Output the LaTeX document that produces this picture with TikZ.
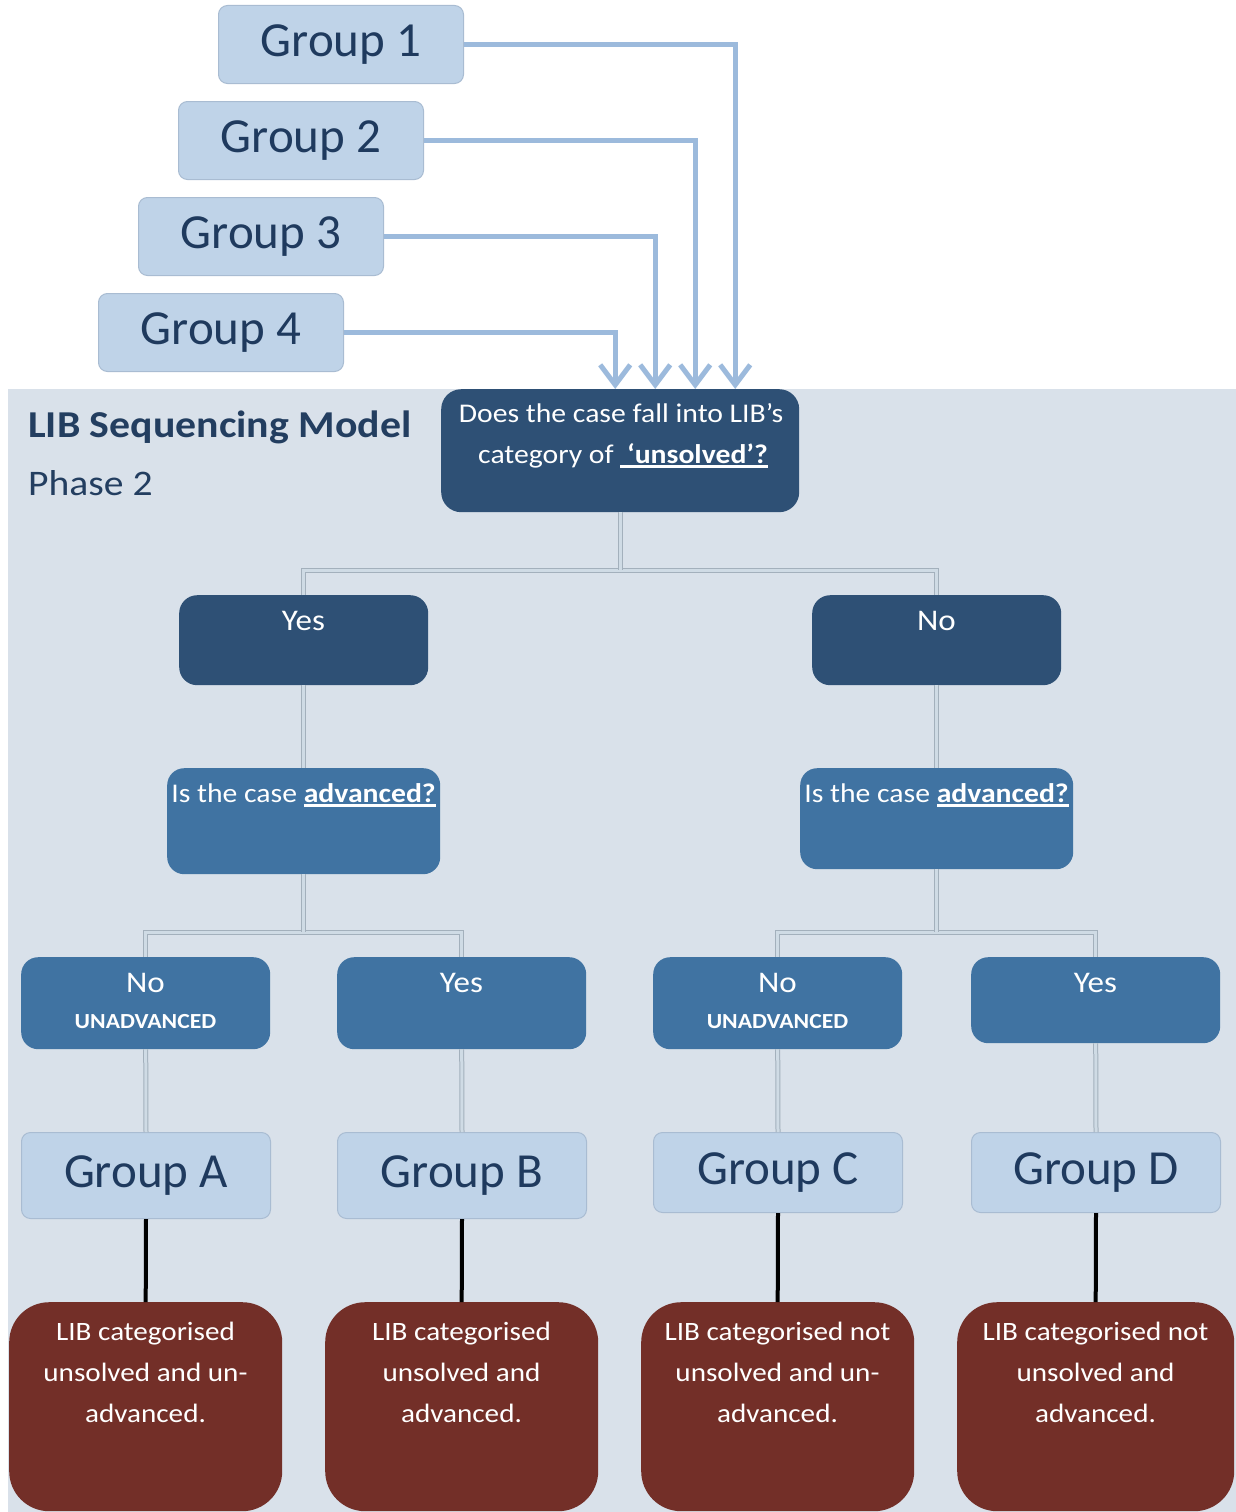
\documentclass[tikz,border=0pt]{standalone}
\usepackage{fontspec}
\setmainfont{Carlito}
\newfontfamily\wide{Carlito}[FakeStretch=1.1]
\usetikzlibrary{arrows.meta}
\definecolor{navy}{HTML}{2E5075}
\definecolor{midblue}{HTML}{4073A2}
\definecolor{lightblue}{HTML}{BFD3E8}
\definecolor{lightedge}{HTML}{A9BCD2}
\definecolor{panel}{HTML}{D9E1EA}
\definecolor{darkred}{HTML}{732F28}
\definecolor{grouptext}{HTML}{1F3A5E}
\definecolor{titletext}{HTML}{233E60}
\definecolor{arrowblue}{HTML}{9CBADC}
\definecolor{connedge}{HTML}{A3B0BC}
\definecolor{connfill}{HTML}{CFDBE5}
\newcommand\ulb[1]{\setbox0\hbox{#1}\rlap{\rule[-4.5pt]{\wd0}{2.5pt}}\box0}
\begin{document}
\begin{tikzpicture}[x=1pt,y=-1pt,
  lightbox/.style={draw=lightedge, fill=lightblue, rounded corners=9pt, line width=1pt,
    minimum width=245pt, minimum height=78pt, inner sep=0pt, anchor=north west,
    text=grouptext, font=\fontsize{49}{58}\selectfont},
  navybox/.style={fill=navy, rounded corners=18pt, inner sep=0pt, anchor=north west},
  midbox/.style={fill=midblue, rounded corners=17pt, inner sep=0pt, anchor=north west},
  redbox/.style={fill=darkred, rounded corners=40pt, inner sep=0pt, anchor=north west,
    minimum width=273pt, minimum height=209pt},
  wtext/.style={text=white, inner sep=0pt, anchor=base, font=\wide\fontsize{27}{34}\selectfont},
  yntext/.style={text=white, inner sep=0pt, anchor=base, font=\wide\fontsize{30}{36}\selectfont},
  smalltext/.style={text=white, inner sep=0pt, anchor=base, font=\wide\bfseries\fontsize{21.5}{26}\selectfont},
  redtext/.style={text=white, inner sep=0pt, anchor=north, align=center, font=\wide\fontsize{26.5}{41}\selectfont},
  arr/.style={draw=arrowblue, line width=5pt, -{Straight Barb[length=20pt,width=30pt]}},
  conn/.style={draw=connedge, line width=1pt, double=connfill, double distance=3pt},
  blk/.style={draw=black, line width=4pt}
]
\useasboundingbox (0,0) rectangle (1236,1512);
\fill[white] (0,0) rectangle (1236,1512);
\fill[panel] (8,389) rectangle (1236,1512);

% top group boxes
\node[lightbox] (g1) at (218,5) {Group 1};
\node[lightbox] (g2) at (178,101) {Group 2};
\node[lightbox] (g3) at (138,197) {Group 3};
\node[lightbox] (g4) at (98,293) {Group 4};

% title
\node[anchor=base west, inner sep=0pt, text=titletext, font=\wide\bfseries\fontsize{38}{44}\selectfont] (title) at (28,437) {LIB Sequencing Model};
\node[anchor=base west, inner sep=0pt, text=titletext, font=\wide\fontsize{36}{42}\selectfont] (phase) at (28,495) {Phase 2};

% top question
\node[navybox, rounded corners=20pt, minimum width=358pt, minimum height=123pt] (q) at (441,389) {};
\node[wtext] (qt1) at (621,422) {Does the case fall into LIB’s};
\node[wtext] (qt2) at (623,463) {category of \ulb{\textbf{~‘unsolved’?}}};

% arrows
\draw[arr] (g1.east) -| ([xshift=115pt]q.north);
\draw[arr] (g2.east) -| ([xshift=75pt]q.north);
\draw[arr] (g3.east) -| ([xshift=35pt]q.north);
\draw[arr] (g4.east) -| ([xshift=-5pt]q.north);

% yes / no
\node[navybox, minimum width=249pt, minimum height=90pt] (yes1) at (179,595) {};
\node[yntext] (yes1t) at (303.5,630) {Yes};
\node[navybox, minimum width=249pt, minimum height=90pt] (no1) at (812,595) {};
\node[yntext] (no1t) at (936.5,630) {No};

% advanced questions
\node[midbox, minimum width=273pt, minimum height=106pt] (qa) at (167,768) {};
\node[wtext] (qat) at (303.5,802) {Is the case \ulb{\textbf{advanced?}}};
\node[midbox, minimum width=273pt, minimum height=101pt] (qb) at (800,768) {};
\node[wtext] (qbt) at (936.5,802) {Is the case \ulb{\textbf{advanced?}}};

% level boxes
\node[midbox, minimum width=249pt, minimum height=92pt] (la) at (21,957) {};
\node[yntext] (lat) at (145.5,992) {No};
\node[smalltext] (las) at (145.5,1028) {UNADVANCED};
\node[midbox, minimum width=249pt, minimum height=92pt] (lb) at (337,957) {};
\node[yntext] (lbt) at (461.5,992) {Yes};
\node[midbox, minimum width=249pt, minimum height=92pt] (lc) at (653,957) {};
\node[yntext] (lct) at (777.5,992) {No};
\node[smalltext] (lcs) at (777.5,1028) {UNADVANCED};
\node[midbox, minimum width=249pt, minimum height=86pt] (ld) at (971,957) {};
\node[yntext] (ldt) at (1095.5,992) {Yes};

% group boxes A-D
\node[lightbox, minimum width=249pt, minimum height=86pt] (ga) at (21,1132) {Group A};
\node[lightbox, minimum width=249pt, minimum height=86pt] (gb) at (337,1132) {Group B};
\node[lightbox, minimum width=249pt, minimum height=80pt] (gc) at (653,1132) {Group C};
\node[lightbox, minimum width=249pt, minimum height=80pt] (gd) at (971,1132) {Group D};

% red boxes
\node[redbox] (ra) at (9,1302) {};
\node[redtext] (rat) at (145.5,1322) {LIB categorised\\unsolved and un-\\advanced.};
\node[redbox] (rb) at (325,1302) {};
\node[redtext] (rbt) at (461.5,1322) {LIB categorised\\unsolved and\\advanced.};
\node[redbox] (rc) at (641,1302) {};
\node[redtext] (rct) at (777.5,1322) {LIB categorised not\\unsolved and un-\\advanced.};
\node[redbox, minimum width=277pt] (rd) at (957,1302) {};
\node[redtext] (rdt) at (1095.5,1322) {LIB categorised not\\unsolved and\\advanced.};

% connectors
\draw[conn] (yes1.north) |- (q.south |- 0,570) -| (no1.north);
\draw[conn] (q.south) -- (q.south |- 0,570);
\draw[conn] (yes1.south) -- (qa.north);
\draw[conn] (no1.south) -- (qb.north);
\draw[conn] (la.north) |- (qa.south |- 0,932) -| (lb.north);
\draw[conn] (qa.south) -- (qa.south |- 0,932);
\draw[conn] (lc.north) |- (qb.south |- 0,932) -| (ld.north);
\draw[conn] (qb.south) -- (qb.south |- 0,932);
\draw[conn] (la.south) -- (ga.north);
\draw[conn] (lb.south) -- (gb.north);
\draw[conn] (lc.south) -- (gc.north);
\draw[conn] (ld.south) -- (gd.north);
\draw[blk] (ga.south) -- (ra.north);
\draw[blk] (gb.south) -- (rb.north);
\draw[blk] (gc.south) -- (rc.north);
\draw[blk] (gd.south) -- (rd.north);
\end{tikzpicture}
\end{document}
